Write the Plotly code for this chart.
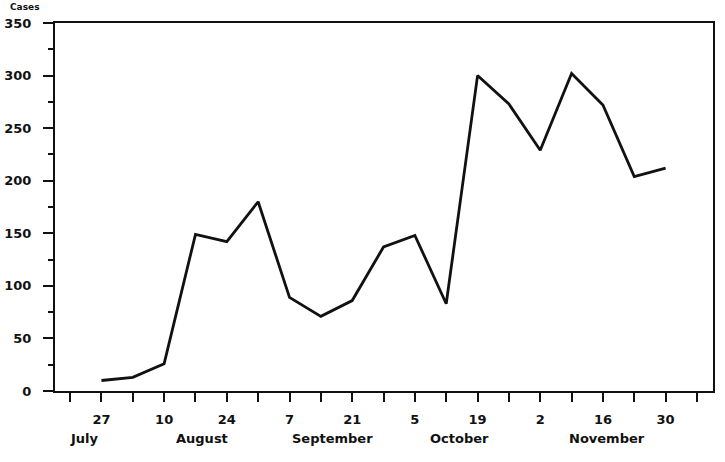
import plotly.graph_objects as go

dates = ["1985-07-27", "1985-08-03", "1985-08-10", "1985-08-17", "1985-08-24", "1985-08-31",
         "1985-09-07", "1985-09-14", "1985-09-21", "1985-09-28", "1985-10-05", "1985-10-12",
         "1985-10-19", "1985-10-26", "1985-11-02", "1985-11-09", "1985-11-16", "1985-11-23",
         "1985-11-30"]
cases = [10, 13, 26, 149, 142, 180, 89, 71, 86, 137, 148, 83, 300, 273, 229, 302, 272, 204, 212]

tick_dates = ["1985-07-20", "1985-07-27", "1985-08-03", "1985-08-10", "1985-08-17", "1985-08-24",
              "1985-08-31", "1985-09-07", "1985-09-14", "1985-09-21", "1985-09-28", "1985-10-05",
              "1985-10-12", "1985-10-19", "1985-10-26", "1985-11-02", "1985-11-09", "1985-11-16",
              "1985-11-23", "1985-11-30", "1985-12-07"]
tick_labels = ["", "27", "", "10", "", "24", "", "7", "", "21", "", "5", "", "19", "", "2", "",
               "16", "", "30", ""]

month_names = ["July", "August", "September", "October", "November"]
month_pos = ["1985-07-23 06:00", "1985-08-18 12:00", "1985-09-16 12:00", "1985-10-15", "1985-11-17"]

FAM = "DejaVu Sans, Verdana, sans-serif"
font = dict(family=FAM, size=13, color="#111")

fig = go.Figure()
fig.add_trace(go.Scatter(x=dates, y=cases, mode="lines",
                         line=dict(color="#111", width=2.8), hoverinfo="skip"))

for name, pos in zip(month_names, month_pos):
    fig.add_annotation(x=pos, y=0, xref="x", yref="paper", text="<b>" + name + "</b>",
                       showarrow=False, yanchor="middle", yshift=-47, font=font)

fig.add_annotation(x=0, y=1, xref="paper", yref="paper", text="<b>Cases</b>", showarrow=False,
                   xanchor="center", yanchor="middle", xshift=-30, yshift=16,
                   font=dict(family=FAM, size=9, color="#111"))

fig.update_layout(
    width=725, height=462,
    margin=dict(l=55, r=12, t=23, b=71, autoexpand=False),
    plot_bgcolor="white", paper_bgcolor="white",
    showlegend=False,
    font=font,
)
fig.update_xaxes(
    type="date", automargin=False,
    range=["1985-07-16 15:00", "1985-12-10 14:00"],
    tickmode="array", tickvals=tick_dates, ticktext=["<b>" + t + "</b>" if t else "" for t in tick_labels],
    ticks="outside", ticklen=9, tickwidth=2, tickcolor="#111",
    showline=True, linecolor="#111", linewidth=2, mirror=True,
    showgrid=False, zeroline=False, ticklabelstandoff=6,
    tickfont=font,
)
fig.update_yaxes(
    range=[0, 350], automargin=False,
    tickmode="array", tickvals=[0, 50, 100, 150, 200, 250, 300, 350],
    ticktext=["<b>%d</b>" % v for v in [0, 50, 100, 150, 200, 250, 300, 350]],
    ticks="outside", ticklen=10, tickwidth=2, tickcolor="#111",
    minor=dict(tickvals=[25, 75, 125, 175, 225, 275, 325], ticks="outside", ticklen=5,
               tickwidth=2, tickcolor="#111"),
    showline=True, linecolor="#111", linewidth=2, mirror=True,
    showgrid=False, zeroline=False, ticklabelstandoff=9,
    tickfont=font,
)

fig.write_html("out.html")
